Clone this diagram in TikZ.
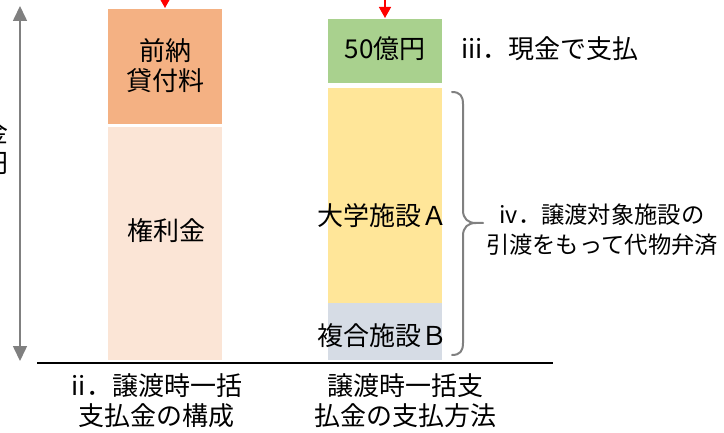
\documentclass[tikz,border=0pt]{standalone}
\usepackage{fontspec}
\setmainfont{Noto Sans CJK JP}
\usetikzlibrary{arrows.meta}
\definecolor{cOrange}{HTML}{F4B183}
\definecolor{cPale}{HTML}{FBE5D6}
\definecolor{cGreen}{HTML}{A9D18E}
\definecolor{cYellow}{HTML}{FFE699}
\definecolor{cBlue}{HTML}{D6DCE5}
\definecolor{cGray}{HTML}{808080}
\tikzset{
  lbl/.style={inner sep=0pt, align=center, font=\fontsize{26}{30}\selectfont},
  smalllbl/.style={inner sep=0pt, align=center, font=\fontsize{23.3}{30}\selectfont},
  redarr/.style={draw=red, line width=1.5pt, -{Triangle[width=12pt,length=11pt]}},
  grayarr/.style={draw=cGray, line width=1.6pt, {Triangle[width=14pt,length=15pt]}-{Triangle[width=14pt,length=15pt]}},
  bracestyle/.style={draw=cGray, line width=2pt, line cap=round, line join=round},
  baseline/.style={draw=black, line width=2pt}
}
\begin{document}
\begin{tikzpicture}[x=1pt,y=-1pt]
\useasboundingbox (0,0) rectangle (724,433);
\clip (0,0) rectangle (724,433);
% vertical scale arrow
\coordinate (vt) at (20,6);
\coordinate (vb) at (20,361);
\draw[grayarr] (vt) -- (vb);
\node[lbl, anchor=east, align=right] (cut) at (9,148) {金\\円};
% left column
\fill[cOrange] (108,9) rectangle (222,124);
\node[lbl] (zenno) at (165,66) {前納\\貸付料};
\fill[cPale] (108,127) rectangle (222,360);
\node[lbl] (kenri) at (166,231) {権利金};
% right column
\fill[cGreen] (328,19) rectangle (442,83);
\node[lbl] (cash) at (385,49) {50億円};
\fill[cYellow] (328,88) rectangle (442,303);
\node[lbl] (univ) at (382,216) {大学施設Ａ};
\fill[cBlue] (328,303) rectangle (442,360);
\node[lbl] (comp) at (382,336) {複合施設Ｂ};
% red arrows
\coordinate (r1s) at (165,-5);
\coordinate (r1e) at (165,8);
\coordinate (r2s) at (385,-5);
\coordinate (r2e) at (385,18);
\draw[redarr] (r1s) -- (r1e);
\draw[redarr] (r2s) -- (r2e);
% brace
\draw[bracestyle] (452,92) .. controls (460,92) and (463,96) .. (463,104)
  -- (463,210) .. controls (463,219) and (468,223) .. (476,223) -- (483,223)
  (476,223) .. controls (468,223) and (463,227) .. (463,236)
  -- (463,343) .. controls (463,351) and (460,355) .. (452,355);
% labels
\node[lbl, anchor=west] (iii) at (461,49) {iii．現金で支払};
\node[smalllbl] (iv) at (602,230) {iv．譲渡対象施設の\\引渡をもって代物弁済};
% base line
\coordinate (bl) at (37,363);
\coordinate (br) at (553,363);
\draw[baseline] (bl) -- (br);
\node[lbl] (ii) at (157,401) {ii．譲渡時一括\\支払金の構成};
\node[lbl] (pay) at (405,401) {譲渡時一括支\\払金の支払方法};
\end{tikzpicture}
\end{document}
